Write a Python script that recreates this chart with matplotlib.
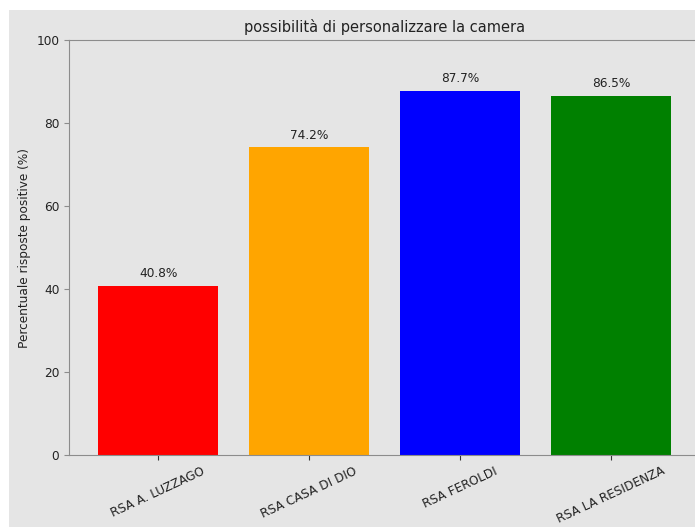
import matplotlib
matplotlib.use("Agg")
import matplotlib.pyplot as plt
from matplotlib.patches import Rectangle

categories = ["RSA A. LUZZAGO", "RSA CASA DI DIO", "RSA FEROLDI", "RSA LA RESIDENZA"]
values = [40.8, 74.2, 87.7, 86.5]
colors = ["red", "orange", "blue", "green"]

_BG = "#e5e5e5"
_SPINE = "#8c8c8c"
_TXT = "#222222"
FS = 8.7

W, H = 695, 527
fig = plt.figure(figsize=(W / 100, H / 100), dpi=100, facecolor="white")
# grey figure panel (cropped screenshot look)
fig.patches.append(Rectangle((9 / W, 0), 1, (H - 10) / H, transform=fig.transFigure,
                             facecolor=_BG, edgecolor="none", zorder=-10))

ax = fig.add_axes([69 / W, (H - 455) / H, (700 - 69) / W, (455 - 40) / H])
ax.set_facecolor(_BG)

x = list(range(len(categories)))
bars = ax.bar(x, values, color=colors, width=0.8)
for b, v in zip(bars, values):
    ax.annotate(f"{v}%", (b.get_x() + b.get_width() / 2, v),
                textcoords="offset points", xytext=(0, 4),
                ha="center", va="bottom", fontsize=FS, color=_TXT)

ax.set_ylim(0, 100)
ax.set_xticks(x)
ax.set_xticklabels(categories, rotation=25, ha="center", fontsize=FS, color=_TXT)
ax.tick_params(axis="y", labelsize=FS, labelcolor=_TXT, color=_SPINE)
ax.tick_params(axis="x", color="#333333")
ax.set_ylabel("Percentuale risposte positive (%)", fontsize=FS, color=_TXT)
ax.set_title("possibilità di personalizzare la camera", fontsize=10.5, color=_TXT)
for s in ax.spines.values():
    s.set_color(_SPINE)

fig.savefig("out.png", dpi=100, facecolor="white")
plt.close(fig)
